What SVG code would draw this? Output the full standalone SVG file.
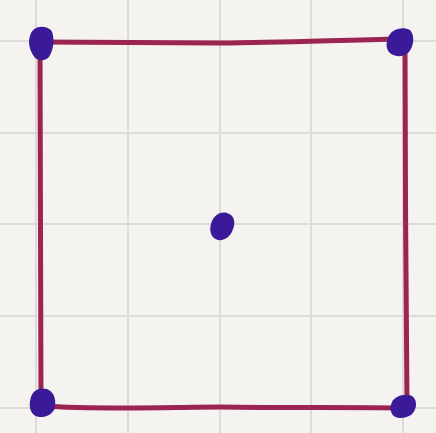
<svg xmlns="http://www.w3.org/2000/svg" width="436" height="433" viewBox="0 0 436 433">
<style>
.grid{stroke:#dcdbd8;stroke-width:2;fill:none}
.edge{stroke:#9b2451;stroke-width:5;fill:none;stroke-linecap:round;stroke-linejoin:round}
.dot{fill:#3b1a99}
</style>
<rect width="436" height="433" fill="#f4f3f0"/>
<g id="grid" class="grid">
<path d="M36 0V433M128 0V433M220 0V433M311 0V433M403 0V433"/>
<path d="M0 41H436M0 133H436M0 224H436M0 316H436M0 408H436"/>
</g>
<g id="connectors">
<path class="edge" d="M40 42 C120 42 170 43 220 43 C280 43 340 40 400 39"/>
<path class="edge" d="M405 40 C405 150 406 300 407 405"/>
<path class="edge" d="M40 406 C110 410 170 407 220 407 C290 408 350 407 405 408"/>
<path class="edge" d="M40 42 C40 150 41 300 41 405"/>
</g>
<g id="node-tl"><path class="dot" d="M30 36 C32 26 44 24 51 30 C55 36 54 50 49 57 C44 62 36 61 33 55 C29 48 28 42 30 36 Z"/></g>
<g id="node-tr"><path class="dot" d="M388 38 C391 29 402 26 410 30 C415 35 414 46 409 52 C403 58 393 57 389 52 C386 48 386 43 388 38 Z"/></g>
<g id="node-bl"><path class="dot" d="M31 397 C33 390 40 387 47 389 C55 392 57 402 54 410 C50 417 40 419 34 415 C29 411 29 403 31 397 Z"/></g>
<g id="node-br"><path class="dot" d="M392 402 C395 396 405 393 412 396 C418 400 417 410 411 415 C404 419 395 419 392 414 C390 410 390 406 392 402 Z"/></g>
<g id="node-c"><path class="dot" d="M211 224 C213 216 220 211 227 213 C234 215 236 222 233 229 C231 236 225 241 218 240 C211 238 209 231 211 224 Z"/></g>
</svg>
